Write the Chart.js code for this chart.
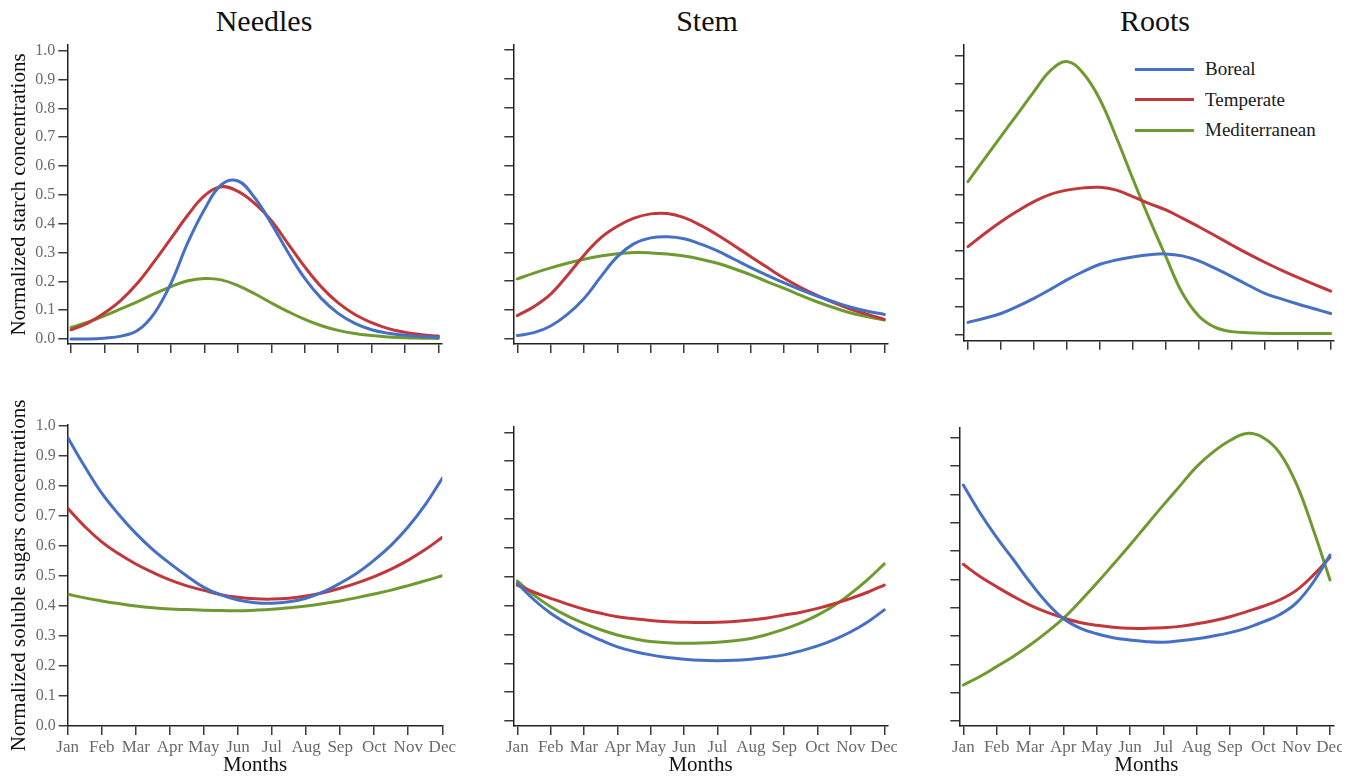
<!DOCTYPE html>
<html>
<head>
<meta charset="utf-8">
<script src="https://cdn.jsdelivr.net/npm/chart.js@4.4.1/dist/chart.umd.min.js"></script>
<style>
  html, body { margin: 0; padding: 0; background: #ffffff; }
  body { width: 1358px; height: 779px; position: relative; overflow: hidden;
         font-family: "Liberation Serif", "Times New Roman", serif; }
  canvas { position: absolute; }
  .ptitle { position: absolute; width: 240px; text-align: center; font-size: 30px;
            line-height: 30px; color: #111; top: 6px; }
  .lrow { position: absolute; left: 1135px; height: 24px; display: flex; align-items: center; }
  .lline { width: 59px; height: 3px; margin-right: 11px; }
  .ltext { font-size: 19px; color: #1a1a1a; white-space: nowrap; }
</style>
</head>
<body>
<div class="ptitle" style="left:144px">Needles</div>
<div class="ptitle" style="left:587px">Stem</div>
<div class="ptitle" style="left:1035px">Roots</div>
<div id="legend"></div>

<script>
// ---------------- DATA ----------------
const monthLabels = ['Jan','Feb','Mar','Apr','May','Jun','Jul','Aug','Sep','Oct','Nov','Dec'];
const monthTicks = [0,1,2,3,4,5,6,7,8,9,10,11];
const yTickValues = [0,0.1,0.2,0.3,0.4,0.5,0.6,0.7,0.8,0.9,1.0];
const xMonths = [0,0.5,1,1.5,2,2.5,3,3.5,4,4.5,5,5.5,6,6.5,7,7.5,8,8.5,9,9.5,10,10.5,11];

const seriesNames = ['Boreal','Temperate','Mediterranean'];
const seriesColors = ['#4570C4','#C1373A','#6F9A2F'];

const yTitleStarch = 'Normalized starch concentrations';
const yTitleSugars = 'Normalized soluble sugars concentrations';
const xTitle = 'Months';

// Starch
const needlesStarchBoreal = [0.000,0.000,0.003,0.010,0.030,0.090,0.195,0.335,0.450,0.535,0.548,0.490,0.400,0.300,0.210,0.140,0.089,0.054,0.032,0.020,0.013,0.009,0.006];
const needlesStarchTemperate = [0.032,0.055,0.090,0.135,0.195,0.270,0.350,0.430,0.497,0.528,0.512,0.470,0.410,0.330,0.250,0.180,0.125,0.085,0.057,0.036,0.023,0.015,0.010];
const needlesStarchMediterranean = [0.040,0.058,0.080,0.105,0.130,0.157,0.182,0.202,0.210,0.205,0.185,0.157,0.125,0.095,0.068,0.046,0.030,0.019,0.012,0.007,0.004,0.003,0.002];

const stemStarchBoreal = [0.012,0.022,0.045,0.085,0.140,0.215,0.285,0.330,0.350,0.354,0.347,0.328,0.305,0.276,0.247,0.220,0.194,0.170,0.148,0.128,0.110,0.096,0.085];
const stemStarchTemperate = [0.081,0.112,0.155,0.220,0.290,0.350,0.390,0.418,0.433,0.434,0.420,0.393,0.360,0.323,0.285,0.247,0.210,0.178,0.150,0.125,0.103,0.085,0.068];
const stemStarchMediterranean = [0.208,0.228,0.246,0.262,0.276,0.287,0.295,0.299,0.298,0.294,0.287,0.276,0.262,0.243,0.222,0.198,0.175,0.151,0.128,0.108,0.090,0.077,0.066];

const rootsStarchBoreal = [0.045,0.060,0.077,0.102,0.131,0.163,0.197,0.227,0.253,0.268,0.279,0.287,0.290,0.283,0.265,0.238,0.209,0.178,0.149,0.129,0.111,0.094,0.077];
const rootsStarchTemperate = [0.316,0.362,0.405,0.443,0.477,0.503,0.518,0.526,0.528,0.518,0.495,0.470,0.447,0.418,0.387,0.355,0.322,0.290,0.260,0.232,0.206,0.181,0.157];
const rootsStarchMediterranean = [0.548,0.630,0.710,0.790,0.870,0.945,0.978,0.935,0.842,0.706,0.558,0.415,0.280,0.150,0.068,0.027,0.012,0.008,0.006,0.005,0.005,0.005,0.005];

// Soluble sugars
const needlesSugarsBoreal = [0.962,0.865,0.776,0.705,0.642,0.588,0.542,0.500,0.462,0.437,0.420,0.411,0.409,0.414,0.426,0.447,0.476,0.510,0.553,0.603,0.664,0.738,0.826];
const needlesSugarsTemperate = [0.726,0.665,0.614,0.574,0.540,0.512,0.487,0.467,0.452,0.438,0.429,0.424,0.423,0.426,0.433,0.444,0.459,0.477,0.498,0.523,0.553,0.588,0.629];
const needlesSugarsMediterranean = [0.439,0.427,0.417,0.408,0.400,0.394,0.390,0.388,0.386,0.385,0.384,0.386,0.389,0.394,0.400,0.408,0.417,0.428,0.440,0.453,0.468,0.484,0.501];

const stemSugarsBoreal = [0.477,0.420,0.373,0.337,0.306,0.280,0.257,0.241,0.229,0.220,0.214,0.210,0.209,0.210,0.214,0.220,0.229,0.243,0.260,0.282,0.309,0.343,0.385];
const stemSugarsTemperate = [0.471,0.446,0.425,0.405,0.387,0.373,0.361,0.354,0.348,0.344,0.342,0.341,0.342,0.345,0.350,0.357,0.367,0.377,0.390,0.406,0.425,0.446,0.471];
const stemSugarsMediterranean = [0.485,0.436,0.396,0.364,0.338,0.316,0.298,0.285,0.275,0.271,0.269,0.270,0.273,0.278,0.286,0.300,0.318,0.340,0.367,0.400,0.442,0.490,0.544];

const rootsSugarsBoreal = [0.833,0.735,0.648,0.570,0.490,0.418,0.362,0.328,0.308,0.294,0.286,0.280,0.278,0.283,0.290,0.300,0.312,0.328,0.350,0.376,0.418,0.490,0.586];
const rootsSugarsTemperate = [0.553,0.510,0.474,0.440,0.409,0.384,0.364,0.348,0.338,0.331,0.327,0.327,0.329,0.334,0.343,0.354,0.368,0.386,0.405,0.428,0.462,0.515,0.578];
const rootsSugarsMediterranean = [0.127,0.157,0.192,0.228,0.268,0.313,0.362,0.422,0.486,0.553,0.621,0.692,0.762,0.830,0.898,0.950,0.990,1.015,1.000,0.945,0.835,0.675,0.498];

// ---------------- LAYOUT ----------------
const FONT = "'Liberation Serif', 'Times New Roman', serif";
const panels = [
  { box:[0,30,458,330],   area:{l:67.3,r:441.7,t:45,b:344},    x0:71,    x11:438.4, y0:339, y1:50.7,
    xLabels:false, yLabels:true,  yTitle:yTitleStarch, xTitle:false,
    series:[needlesStarchBoreal, needlesStarchTemperate, needlesStarchMediterranean] },
  { box:[458,30,440,330], area:{l:513.3,r:887.7,t:45,b:344},   x0:517.3, x11:884.3, y0:339, y1:50,
    xLabels:false, yLabels:false, yTitle:null, xTitle:false,
    series:[stemStarchBoreal, stemStarchTemperate, stemStarchMediterranean] },
  { box:[905,30,453,330], area:{l:964,r:1333.3,t:45,b:340.7},  x0:968,   x11:1330.7, y0:335, y1:55.3,
    xLabels:false, yLabels:false, yTitle:null, xTitle:false,
    series:[rootsStarchBoreal, rootsStarchTemperate, rootsStarchMediterranean] },
  { box:[0,390,458,389],  area:{l:67.7,r:442.3,t:425,b:726},   x0:67.7,  x11:442.3, y0:726, y1:426,
    xLabels:true, yLabels:true,  yTitle:yTitleSugars, xTitle:true,
    series:[needlesSugarsBoreal, needlesSugarsTemperate, needlesSugarsMediterranean] },
  { box:[460,390,437,389], area:{l:513.3,r:887.7,t:426.7,b:726}, x0:517.3, x11:884.3, y0:721, y1:432.3,
    xLabels:true, yLabels:false, yTitle:null, xTitle:true,
    series:[stemSugarsBoreal, stemSugarsTemperate, stemSugarsMediterranean] },
  { box:[905,390,437,389], area:{l:959.3,r:1333.3,t:427.3,b:726}, x0:963.3, x11:1330, y0:721, y1:437.7,
    xLabels:true, yLabels:false, yTitle:null, xTitle:true,
    series:[rootsSugarsBoreal, rootsSugarsTemperate, rootsSugarsMediterranean] }
];

// ---------------- LEGEND (HTML) ----------------
const legendRowsY = [69, 99.5, 130];
const legendEl = document.getElementById('legend');
seriesNames.forEach((name, i) => {
  const row = document.createElement('div');
  row.className = 'lrow';
  row.style.top = (legendRowsY[i] - 12) + 'px';
  const line = document.createElement('div');
  line.className = 'lline';
  line.style.background = seriesColors[i];
  const txt = document.createElement('span');
  txt.className = 'ltext';
  txt.textContent = name;
  row.appendChild(line); row.appendChild(txt);
  legendEl.appendChild(row);
});

// ---------------- CHARTS ----------------
panels.forEach((p) => {
  const [bl, bt, bw, bh] = p.box;
  const cv = document.createElement('canvas');
  cv.width = bw; cv.height = bh;
  cv.style.left = bl + 'px'; cv.style.top = bt + 'px';
  cv.style.width = bw + 'px'; cv.style.height = bh + 'px';
  document.body.appendChild(cv);

  const a = p.area;
  const pxPerMonth = (p.x11 - p.x0) / 11;
  const xMin = (a.l - p.x0) / pxPerMonth;
  const xMax = (a.r - p.x0) / pxPerMonth;
  const pxPerUnit = p.y0 - p.y1;
  const yMin = (p.y0 - a.b) / pxPerUnit;
  const yMax = (p.y0 - a.t) / pxPerUnit;

  const datasets = p.series.map((vals, i) => ({
    label: seriesNames[i],
    data: xMonths.map((x, k) => ({ x: x, y: vals[k] })),
    borderColor: seriesColors[i],
    backgroundColor: seriesColors[i],
    borderWidth: 3,
    pointRadius: 0,
    fill: false,
    tension: 0.4,
    borderCapStyle: 'round',
    borderJoinStyle: 'round'
  }));

  new Chart(cv, {
    type: 'line',
    data: { datasets },
    options: {
      responsive: false,
      devicePixelRatio: 1,
      animation: false,
      events: [],
      layout: { padding: { left: 0, top: a.t - bt, right: (bl + bw) - a.r, bottom: 0 } },
      plugins: { legend: { display: false }, tooltip: { enabled: false }, title: { display: false } },
      scales: {
        x: {
          type: 'linear',
          min: xMin, max: xMax,
          bounds: 'data',
          afterBuildTicks: (s) => { s.ticks = monthTicks.map(v => ({ value: v })); },
          afterFit: (s) => { s.height = (bt + bh) - a.b; s.paddingLeft = 0; s.paddingRight = 0; },
          ticks: {
            display: p.xLabels,
            autoSkip: false, maxRotation: 0, minRotation: 0,
            padding: 2,
            color: '#6a6a6a',
            font: { family: FONT, size: 17 },
            callback: (v, i) => monthLabels[i]
          },
          grid: { drawOnChartArea: false, drawTicks: true, tickLength: 9, color: '#3a3a3a', lineWidth: 1.5 },
          border: { display: true, color: '#222', width: 1.5 },
          title: {
            display: p.xTitle, text: xTitle, color: '#111',
            font: { family: FONT, size: 21 },
            padding: { top: 0, bottom: 1 }
          }
        },
        y: {
          type: 'linear',
          min: yMin, max: yMax,
          bounds: 'data',
          afterBuildTicks: (s) => { s.ticks = yTickValues.map(v => ({ value: v })); },
          afterFit: (s) => { s.width = a.l - bl; s.paddingTop = 0; s.paddingBottom = 0; },
          ticks: {
            display: p.yLabels,
            autoSkip: false,
            padding: 3,
            color: '#6a6a6a',
            font: { family: FONT, size: 16 },
            callback: (v) => Number(v).toFixed(1)
          },
          grid: { drawOnChartArea: false, drawTicks: true, tickLength: 9, color: '#3a3a3a', lineWidth: 1.5 },
          border: { display: true, color: '#222', width: 1.5 },
          title: {
            display: !!p.yTitle, text: p.yTitle || '', color: '#111',
            font: { family: FONT, size: 21 },
            padding: { top: 7, bottom: 0 }
          }
        }
      }
    }
  });
});
</script>
</body>
</html>
